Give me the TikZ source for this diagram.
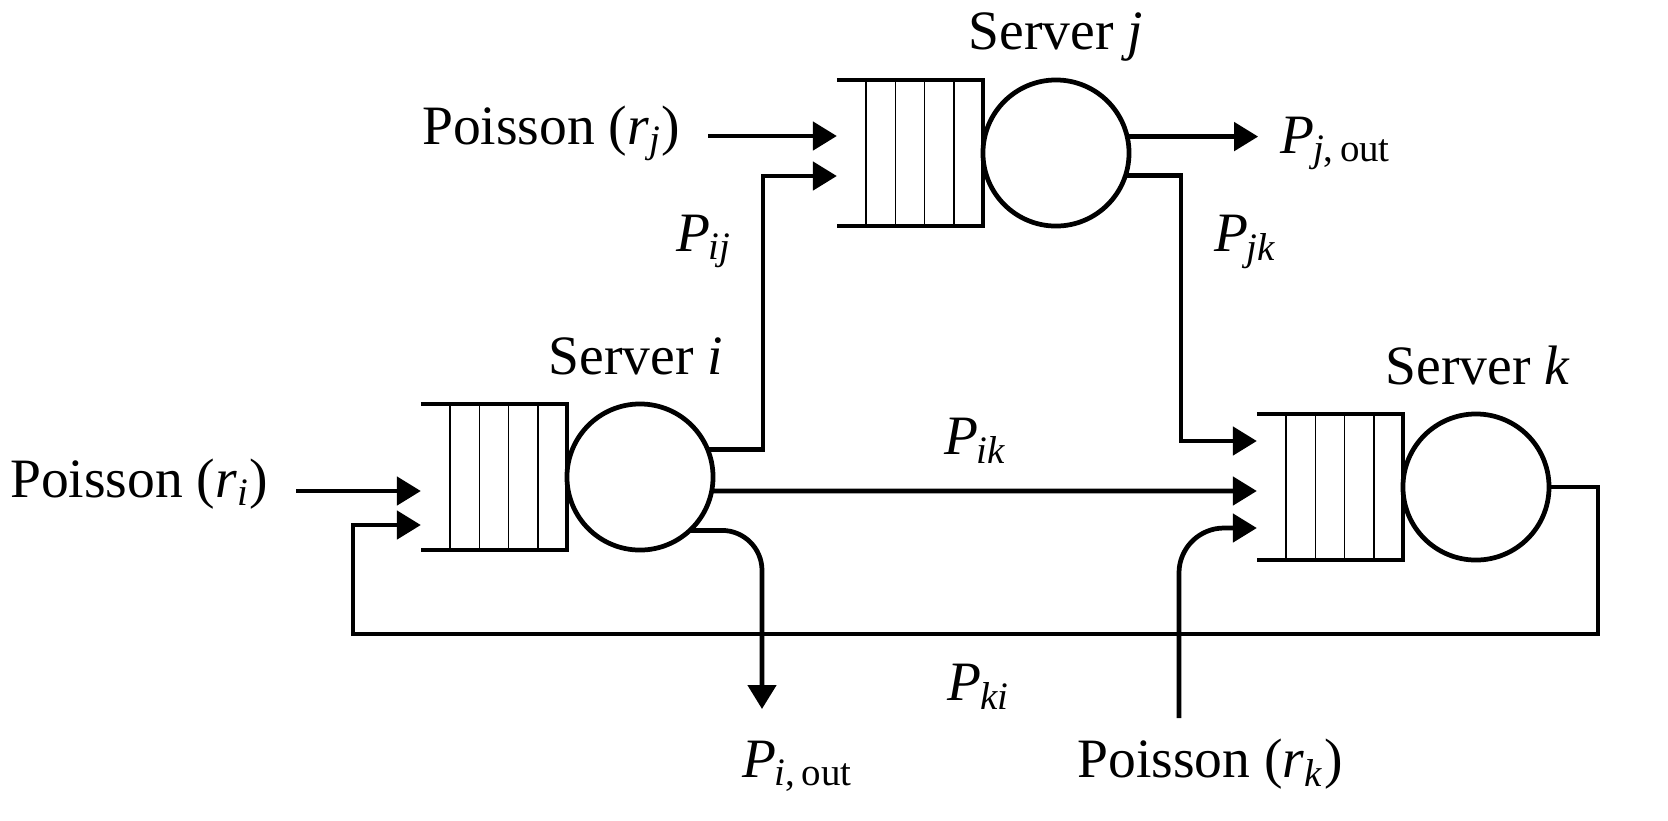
\documentclass[tikz,border=0pt]{standalone}
\usepackage{fontspec}
\setmainfont{Liberation Serif}
\usetikzlibrary{arrows.meta,calc,positioning}
\def\pr#1{\textit{P}\kern-0.5pt\textsubscript{\textit{#1}}}
\def\pout#1{\textit{P}\kern-0.5pt\textsubscript{\textit{#1},\,out}}
\def\poisson#1{Poisson (\textit{r}\textsubscript{\textit{#1}})}
\tikzset{
	server/.style={circle, draw, line width=1.35pt, minimum size=1.46cm, inner sep=0, outer sep=0},
	queue/.style={minimum width=1.46cm, minimum height=1.46cm, inner sep=0, outer sep=0},
	flow/.style={line width=1.35pt, -{Triangle[length=2.4mm,width=2.8mm]}},
	lbl/.style={inner sep=0, font=\fontsize{15.8}{19}\selectfont}
}

\begin{document}
\begin{tikzpicture}[x=0.01cm, y=-0.01cm]
		%%%%% START %%%%%
		\useasboundingbox (0,0) rectangle (1668,820);
		
		% servers and their queues
		\node[server] (si) at (640,477) {};
		\node[server] (sj) at (1056,153) {};
		\node[server] (sk) at (1476,487) {};
		\node[queue, left=0pt of si] (qi) {};
		\node[queue, left=0pt of sj] (qj) {};
		\node[queue, left=0pt of sk] (qk) {};
		
		\foreach \q in {qi,qj,qk}{
			\draw[line width=1.35pt] (\q.north west) -- (\q.north east) -- (\q.south east) -- (\q.south west);
			\foreach \f in {0.2,0.4,0.6,0.8}
				\draw[line width=0.45pt] ($(\q.north west)!\f!(\q.north east)$) -- ($(\q.south west)!\f!(\q.south east)$);
		}
		
		\node[lbl, anchor=base] (ti) at ($(si.north)+(-4,-29)$) {Server \textit{i}};
		\node[lbl, anchor=base] (tj) at ($(sj.north)+(0,-30)$) {Server \textit{j}};
		\node[lbl, anchor=base] (tk) at ($(sk.north)+(2,-29)$) {Server \textit{k}};
		
		% arrival points
		\coordinate (ai1) at ($(qi.west)+(0,14)$);
		\coordinate (ai2) at ($(qi.west)+(0,48)$);
		\coordinate (aj1) at ($(qj.west)+(0,-17)$);
		\coordinate (aj2) at ($(qj.west)+(0,23)$);
		\coordinate (ak1) at ($(qk.west)+(0,-46)$);
		\coordinate (ak2) at ($(qk.west)+(0,4)$);
		\coordinate (ak3) at ($(qk.west)+(0,41)$);
		
		% outside arrivals
		\node[lbl, anchor=base east] (pi) at (269,497) {\poisson{i}};
		\node[lbl, anchor=base east] (pj) at (681,144) {\poisson{j}};
		\coordinate (kin) at (1179,718);
		\node[lbl, anchor=base] (pk) at (1210,777) {\poisson{k}};
		\draw[flow] (pi.east |- ai1) ++(27,0) -- (ai1);
		\draw[flow] (pj.east |- aj1) ++(27,0) -- (aj1);
		\draw[flow, rounded corners=0.45cm] (kin) |- (ak3);
		
		% routing
		\draw[flow] (si.22) -| ($(aj2)+(-74,0)$) -- (aj2);
		\draw[flow] (si.-11) -- (ak2);
		\draw[flow] (sj.-18) -| ($(ak1)+(-76,0)$) -- (ak1);
		\coordinate (loop) at (353,634);
		\draw[flow] (sk.east) -- ++(49,0) |- (loop) |- (ai2);
		
		% departures
		\coordinate (iout) at (762,709);
		\draw[flow, rounded corners=0.4cm] (si.-47) -| (iout);
		\draw[flow] (sj.13) -- ++(131,0) coordinate (jout);
		
		\node[lbl, anchor=base] (lij) at (704,251) {\pr{ij}};
		\node[lbl, anchor=base] (lik) at (976,454) {\pr{ik}};
		\node[lbl, anchor=base] (ljk) at (1246,251) {\pr{jk}};
		\node[lbl, anchor=base] (lki) at (979,700) {\pr{ki}};
		\node[lbl, anchor=base west] (liout) at (742,777) {\pout{i}};
		\node[lbl, anchor=base west] (ljout) at ($(jout)+(22,17)$) {\pout{j}};
		%%%%% END %%%%%
\end{tikzpicture}
\end{document}
